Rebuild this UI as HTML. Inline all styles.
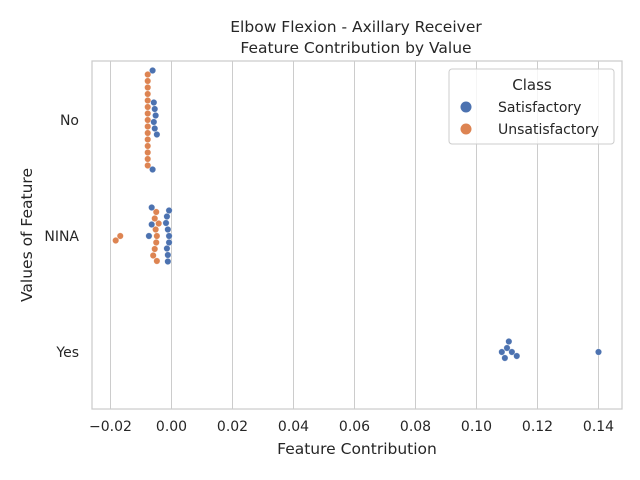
<!DOCTYPE html>
<html><head><meta charset="utf-8"><style>
body{margin:0;background:#fff}
svg{display:block;font-family:"DejaVu Sans","Liberation Sans",sans-serif;fill:#262626}
</style></head><body>
<svg id="chart" width="640" height="480" viewBox="0 0 640 480">
<rect x="92" y="61" width="530" height="348" fill="#fff" stroke="#cccccc" stroke-width="1.25"/>
<g id="grid"></g>
<g id="dots"></g>
<g id="ticks"></g>
<text x="356" y="32" text-anchor="middle" font-size="15.5">Elbow Flexion - Axillary Receiver</text>
<text x="356" y="53" text-anchor="middle" font-size="15.5">Feature Contribution by Value</text>
<text x="357" y="458" text-anchor="middle" font-size="15.5" dy="-4">Feature Contribution</text>
<text x="32" y="235" text-anchor="middle" font-size="15.5" transform="rotate(-90 32 235)">Values of Feature</text>
<g>
<rect x="449" y="69" width="165" height="75" rx="3" fill="#fff" fill-opacity="0.8" stroke="#cccccc"/>
<text x="532" y="90" text-anchor="middle" font-size="15">Class</text>
<circle cx="466" cy="107" r="5.5" fill="#4c72b0"/>
<text x="498" y="112" font-size="14">Satisfactory</text>
<circle cx="466" cy="129" r="5.5" fill="#dd8452"/>
<text x="498" y="134" font-size="14">Unsatisfactory</text>
</g>
</svg>
<script>
const categories = ["No", "NINA", "Yes"];
const xTicks = [-0.02, 0.00, 0.02, 0.04, 0.06, 0.08, 0.10, 0.12, 0.14];
const xTickLabels = ["−0.02","0.00","0.02","0.04","0.06","0.08","0.10","0.12","0.14"];
const satNo = [-0.0062,-0.0058,-0.0052,-0.0055,-0.0055,-0.0048,-0.0062,-0.0058];
const unsatNo = [-0.0078,-0.0078,-0.0078,-0.0078,-0.0078,-0.0078,-0.0078,-0.0078,-0.0078,-0.0078,-0.0078,-0.0078,-0.0078,-0.0078,-0.0078];
const satNina = [-0.0008,-0.0008,-0.0012,-0.0015,-0.0018,-0.0012,-0.0015,-0.0012,-0.0008,-0.0065,-0.0074,-0.0065];
const unsatNina = [-0.0048,-0.005,-0.0052,-0.0055,-0.0042,-0.0055,-0.006,-0.005,-0.0048,-0.0168,-0.0183];
const satYes = [0.1083,0.1093,0.1100,0.1106,0.1116,0.1132,0.1400];
const unsatYes = [];

const NS="http://www.w3.org/2000/svg";
const X0=92,X1=622,Y0=61,Y1=409;
function xs(v){return 171.5+v*3050;}
function ys(i){return 120+i*116;}
const grid=document.getElementById('grid'),ticks=document.getElementById('ticks'),dots=document.getElementById('dots');
xTicks.forEach((t,i)=>{
  const l=document.createElementNS(NS,'line');
  l.setAttribute('x1',xs(t));l.setAttribute('x2',xs(t));l.setAttribute('y1',Y0);l.setAttribute('y2',Y1);
  l.setAttribute('stroke','#cccccc');l.setAttribute('stroke-width','1');
  
  
  grid.appendChild(l);
  const tx=document.createElementNS(NS,'text');
  tx.setAttribute('x',xs(t));tx.setAttribute('y',431);tx.setAttribute('text-anchor','middle');tx.setAttribute('font-size','14');
  tx.textContent=xTickLabels[i];
  
  
  ticks.appendChild(tx);
});
categories.forEach((c,i)=>{
  const tx=document.createElementNS(NS,'text');
  tx.setAttribute('x',79);tx.setAttribute('y',ys(i)+5);tx.setAttribute('text-anchor','end');tx.setAttribute('font-size','14');
  tx.textContent=c;
  
  
  ticks.appendChild(tx);
});
const D=6.3,R=3.2;
function swarm(ci,sets){
  const pts=[];
  sets.forEach(s=>s.vals.forEach(v=>pts.push({x:xs(v),col:s.col,name:s.name})));
  const placed=[];
  pts.forEach(p=>{
    let best=0;
    for(let k=0;k<400;k++){
      const off=(k%2?1:-1)*Math.ceil(k/2)*0.5;
      if(placed.every(q=>Math.hypot(q.x-p.x,q.y-off)>=D)){best=off;break;}
    }
    placed.push({x:p.x,y:best});
    const c=document.createElementNS(NS,'circle');
    c.setAttribute('cx',p.x);c.setAttribute('cy',ys(ci)+best);c.setAttribute('r',R);
    c.setAttribute('fill',p.col);c.setAttribute('stroke','#fff');c.setAttribute('stroke-width','0.3');
    
    
    dots.appendChild(c);
  });
}
swarm(0,[{vals:unsatNo,col:'#dd8452',name:'point-unsatisfactory'},{vals:satNo,col:'#4c72b0',name:'point-satisfactory'}]);
swarm(1,[{vals:unsatNina,col:'#dd8452',name:'point-unsatisfactory'},{vals:satNina,col:'#4c72b0',name:'point-satisfactory'}]);
swarm(2,[{vals:satYes,col:'#4c72b0',name:'point-satisfactory'},{vals:unsatYes,col:'#dd8452',name:'point-unsatisfactory'}]);
</script>
</body></html>
